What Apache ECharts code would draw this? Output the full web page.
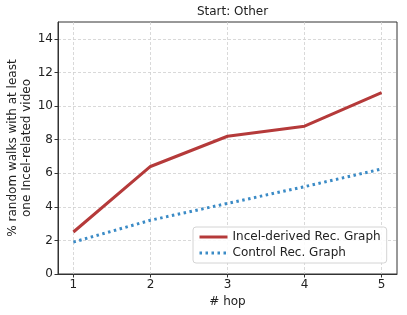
<!DOCTYPE html>
<html>
<head>
<meta charset="utf-8">
<script src="https://cdn.jsdelivr.net/npm/echarts@6/dist/echarts.min.js"></script>
<style>html,body{margin:0;padding:0;background:#fff}#c{width:407px;height:315px}</style>
</head>
<body>
<div id="c"></div>
<script>
const hops = [1, 2, 3, 4, 5];
const incelValues = [2.5, 6.4, 8.2, 8.8, 10.8];
const controlValues = [1.9, 3.2, 4.2, 5.2, 6.25];
const yTicks = [0, 2, 4, 6, 8, 10, 12, 14];
const seriesNames = ['Incel-derived Rec. Graph', 'Control Rec. Graph'];
const titleText = 'Start: Other';
const xName = '# hop';
const yName = '% random walks with at least\none Incel-related video';

const font = 'DejaVu Sans';
const chart = echarts.init(document.getElementById('c'), null, {renderer: 'canvas'});
chart.setOption({
  animation: false,
  backgroundColor: '#fff',
  title: {text: titleText, left: 227.5, textAlign: 'center', top: 1,
    textStyle: {fontFamily: font, fontSize: 12, fontWeight: 'normal', color: '#222'}},
  grid: {left: 58, right: 10, top: 22, bottom: 41, outerBoundsMode: 'none', containLabel: false,
    show: true, borderColor: '#333', borderWidth: 1, backgroundColor: 'transparent'},
  legend: {
    orient: 'vertical', left: 193, top: 227, itemWidth: 28, itemHeight: 10, itemGap: 4,
    padding: [4, 6, 4, 5], borderColor: '#d4d4d4', borderWidth: 1, borderRadius: 3,
    backgroundColor: 'rgba(255,255,255,0.85)',
    itemStyle: {opacity: 0},
    lineStyle: {width: 3},
    textStyle: {fontFamily: font, fontSize: 12, color: '#222'},
    data: seriesNames
  },
  xAxis: {
    type: 'value', min: 0.8, max: 5.2,
    name: xName, nameLocation: 'middle', nameGap: 22,
    nameTextStyle: {fontFamily: font, fontSize: 12, color: '#222'},
    axisLine: {show: true, onZero: false, lineStyle: {color: '#333'}},
    axisTick: {show: true, length: 3.5, customValues: hops, lineStyle: {color: '#333'}},
    axisLabel: {customValues: hops, fontFamily: font, fontSize: 12, color: '#222', margin: 5},
    splitLine: {show: true, lineStyle: {color: '#cfcfcf', type: [3, 2], width: 0.8}}
  },
  yAxis: {
    type: 'value', min: 0, max: 15,
    name: yName, nameLocation: 'middle', nameGap: 24, nameRotate: 90, nameMoveOverlap: false,
    nameTextStyle: {fontFamily: font, fontSize: 12, color: '#222', lineHeight: 14},
    axisLine: {show: true, lineStyle: {color: '#333'}},
    axisTick: {show: true, length: 3.5, customValues: yTicks, lineStyle: {color: '#333'}},
    axisLabel: {customValues: yTicks, fontFamily: font, fontSize: 12, color: '#222', margin: 5},
    splitLine: {show: true, lineStyle: {color: '#cfcfcf', type: [3, 2], width: 0.8}}
  },
  series: [
    {name: seriesNames[0], type: 'line', symbol: 'none',
     data: hops.map((h, i) => [h, incelValues[i]]),
     lineStyle: {color: '#b53a3a', width: 3}, itemStyle: {color: '#b53a3a'}},
    {name: seriesNames[1], type: 'line', symbol: 'none',
     data: hops.map((h, i) => [h, controlValues[i]]),
     lineStyle: {color: '#3b8bc6', width: 3, type: [2.5, 3.5]}, itemStyle: {color: '#3b8bc6'}}
  ]
});
</script>
</body>
</html>
